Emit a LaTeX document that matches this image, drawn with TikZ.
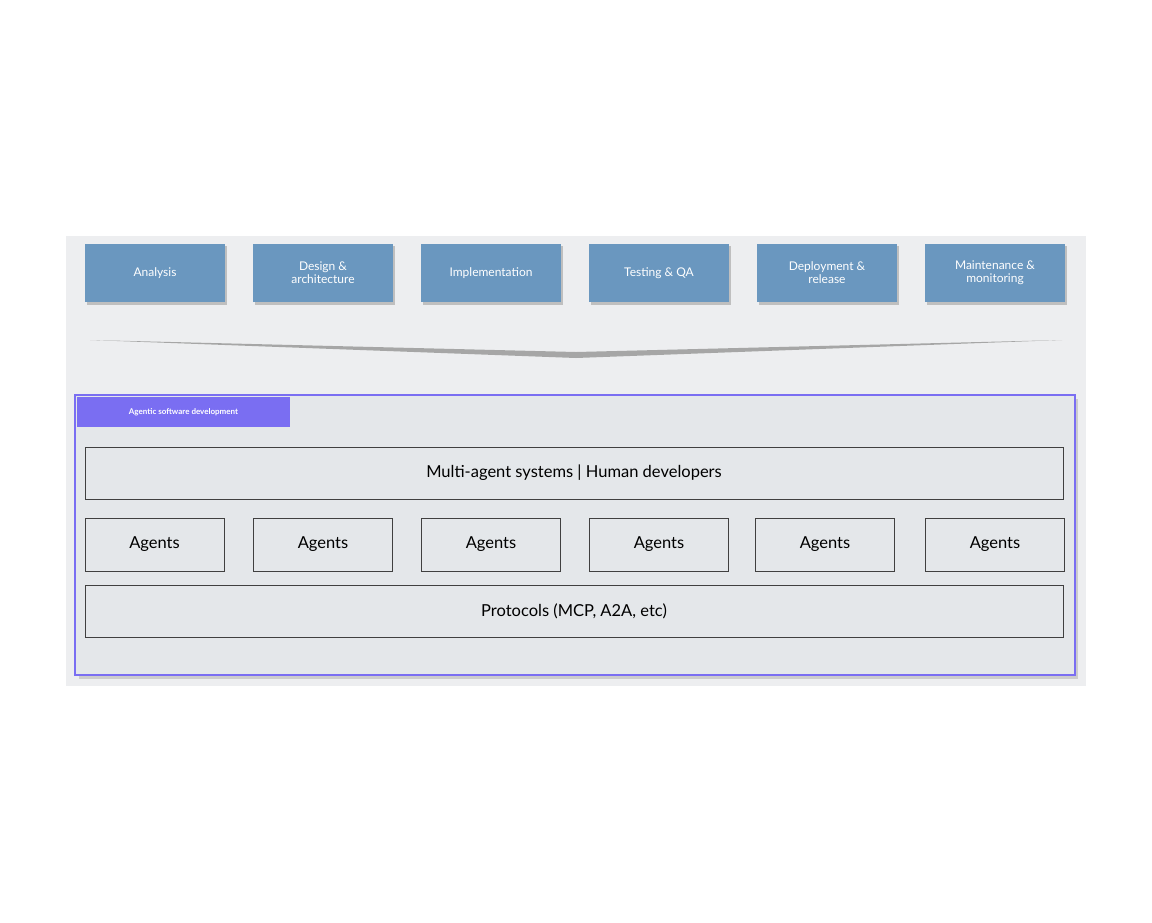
\documentclass[tikz,border=0pt]{standalone}
\usepackage{fontspec}
\setmainfont{Lato}
\begin{document}
\begin{tikzpicture}[x=1pt,y=-1pt,
  phase/.style={fill=phaseblue,text=white,font=\fontsize{12}{13}\selectfont,align=center,minimum width=140pt,minimum height=58pt,inner sep=1pt},
  layer/.style={draw=black!75,fill=innergray,line width=0.8pt,font=\fontsize{16.5}{18}\selectfont,inner sep=0pt}]
\definecolor{phaseblue}{HTML}{6A97BF}
\definecolor{panelgray}{HTML}{EDEEF0}
\definecolor{innergray}{HTML}{E4E7EA}
\definecolor{violet}{HTML}{7A6EF2}
\useasboundingbox (0,0) rectangle (1152,922);
\fill[panelgray] (66,236) rectangle (1086,686);
% phases
\foreach \n/\x/\t in {a/155/Analysis, b/323/{Design \&\\architecture}, c/491/Implementation, d/659/{Testing \& QA}, e/827/{Deployment \&\\release}, f/995/{Maintenance \&\\monitoring}}{
  \fill[black!25] (\x-68,246) rectangle (\x+72,305);
  \node[phase] (p\n) at (\x,273) {\t};
}
% chevron
\fill[black!35] (90,340) -- (576,352) -- (1062,340) -- (576,358) -- cycle;
% frame
\fill[black!20] (79,399) rectangle (1078,679);
\draw[violet,fill=innergray,line width=1.5pt] (75,395) rectangle (1075,675);
\node[fill=violet,text=white,font=\bfseries\fontsize{8}{9}\selectfont,minimum width=213pt,minimum height=30pt,inner sep=0pt] (tab) at (183.5,412) {Agentic software development};
\node[layer,minimum width=978pt,minimum height=52pt] (mas) at (574,473) {Multi-agent systems | Human developers};
\foreach \i/\x in {1/154.5,2/323,3/491,4/659,5/825,6/995}{
  \node[layer,minimum width=139pt,minimum height=53pt] (ag\i) at (\x,544.5) {Agents};
}
\node[layer,minimum width=978pt,minimum height=52pt] (prot) at (574,611) {Protocols (MCP, A2A, etc)};
\end{tikzpicture}
\end{document}
